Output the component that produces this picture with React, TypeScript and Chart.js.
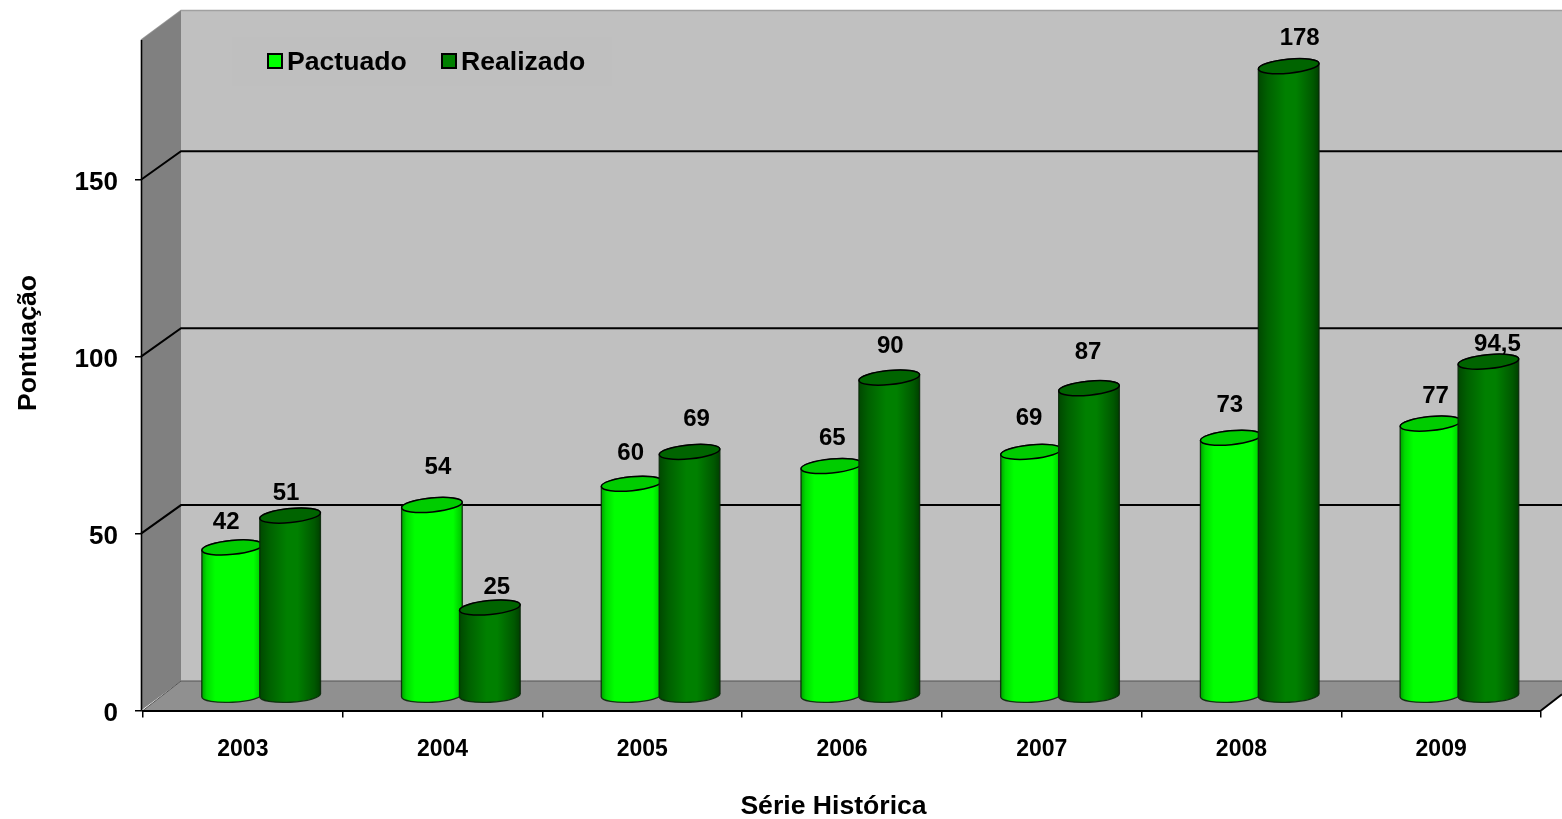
import React, { useEffect, useRef } from "react";
import { Chart, registerables } from "chart.js";

Chart.register(...registerables);

const categories = ["2003", "2004", "2005", "2006", "2007", "2008", "2009"];
const pactuado = [42, 54, 60, 65, 69, 73, 77];
const realizado = [51, 25, 69, 90, 87, 178, 94.5];
const yTickValues = [0, 50, 100, 150];
const seriesNames = ["Pactuado", "Realizado"];
// label nudges relative to each cylinder's top centre: the source labels were hand placed
const pactuadoLabelNudge = [[-6, -25], [6, -38], [-1, -30], [1, -28], [-2, -33], [-1, -32], [5, -27]];
const realizadoLabelNudge = [[-4, -22], [7, -20], [7, -32], [1, -31], [-1, -36], [11, -28], [9, -17]];

const FONT = '"Liberation Sans", Arial, sans-serif';
const DX = 38;
const DY = -29.5;
const GRID_DY = -28.5;
const CX = 18.3;
const CY = -14.5;

const cylinderStyles = [
  { stops: [[0, "#00a000"], [0.08, "#00dc00"], [0.22, "#00ff00"], [0.85, "#00ff00"], [1, "#00c000"]], top: "#00cc00" },
  { stops: [[0, "#004800"], [0.15, "#006000"], [0.45, "#008000"], [0.62, "#008000"], [0.9, "#005800"], [1, "#004000"]], top: "#006400" },
];

const cylinderPlugin = {
  id: "cylinder3d",
  beforeDatasetsDraw(chart: any) {
    const { ctx, scales } = chart;
    const x = scales.x;
    const y = scales.y;
    const W = chart.width;
    const L = x.left;
    const R = x.right;
    const B = y.bottom;
    const T = y.top;

    ctx.save();
    // back wall
    ctx.fillStyle = "#c0c0c0";
    ctx.fillRect(L + DX, T + DY, W - L - DX, B - T);
    ctx.fillStyle = "#bfbfbf";
    ctx.fillRect(232, 37, 380, 49);
    // top edge of back wall
    ctx.strokeStyle = "#a0a0a0";
    ctx.lineWidth = 1.5;
    ctx.beginPath();
    ctx.moveTo(L - 2, T);
    ctx.lineTo(L + DX, T + DY);
    ctx.lineTo(W, T + DY);
    ctx.stroke();
    // left wall
    ctx.fillStyle = "#808080";
    ctx.beginPath();
    ctx.moveTo(L - 2, T);
    ctx.lineTo(L + DX, T + DY);
    ctx.lineTo(L + DX, B + DY);
    ctx.lineTo(L - 2, B);
    ctx.closePath();
    ctx.fill();
    // floor
    ctx.fillStyle = "#909090";
    ctx.beginPath();
    ctx.moveTo(L, B);
    ctx.lineTo(L + DX, B + DY);
    ctx.lineTo(W, B + DY);
    ctx.lineTo(W, B + ((W - R) / DX) * DY);
    ctx.lineTo(R, B);
    ctx.closePath();
    ctx.fill();
    ctx.strokeStyle = "#555555";
    ctx.lineWidth = 1;
    ctx.beginPath();
    ctx.moveTo(L, B);
    ctx.lineTo(L + DX, B + DY);
    ctx.lineTo(W, B + DY);
    ctx.stroke();
    // grid lines on walls
    ctx.strokeStyle = "#000000";
    ctx.lineWidth = 2;
    for (const v of yTickValues) {
      if (v === 0) continue;
      const py = y.getPixelForValue(v);
      ctx.beginPath();
      ctx.moveTo(L - 2, py);
      ctx.lineTo(L + DX, py + GRID_DY);
      ctx.lineTo(W, py + GRID_DY);
      ctx.stroke();
    }
    // y axis line at the front edge of the left wall
    ctx.lineWidth = 1.6;
    ctx.beginPath();
    ctx.moveTo(L - 1.5, T);
    ctx.lineTo(L - 1.5, B);
    ctx.stroke();
    // right diagonal of the floor
    ctx.lineWidth = 2;
    ctx.beginPath();
    ctx.moveTo(R, B);
    ctx.lineTo(W, B + ((W - R) / DX) * DY);
    ctx.stroke();

    // cylinders
    chart.data.datasets.forEach((_: any, di: number) => {
      const style = cylinderStyles[di];
      chart.getDatasetMeta(di).data.forEach((el: any) => {
        const cx = el.x + CX;
        const topY = el.y + CY;
        const botY = el.base + CY;
        const rx = el.width / 2 + 1.5;
        const ry = 7;
        const rotT = (-5.5 * Math.PI) / 180;
        const rotB = (-3 * Math.PI) / 180;
        const g = ctx.createLinearGradient(cx - rx, 0, cx + rx, 0);
        style.stops.forEach((s: any) => g.addColorStop(s[0], s[1]));
        ctx.beginPath();
        ctx.ellipse(cx, botY, rx, ry, rotB, 0, Math.PI, false);
        ctx.ellipse(cx, topY, rx, ry, rotT, Math.PI, 2 * Math.PI, false);
        ctx.closePath();
        ctx.fillStyle = g;
        ctx.fill();
        ctx.strokeStyle = "rgba(10,40,10,0.9)";
        ctx.lineWidth = 1.3;
        ctx.stroke();
        ctx.beginPath();
        ctx.ellipse(cx, topY, rx, ry, rotT, 0, 2 * Math.PI);
        ctx.fillStyle = style.top;
        ctx.fill();
        ctx.strokeStyle = "#000000";
        ctx.lineWidth = 1.5;
        ctx.stroke();
      });
    });
    ctx.restore();
  },
  beforeDatasetDraw() {
    return false;
  },
  afterDraw(chart: any) {
    const { ctx, scales } = chart;
    ctx.save();
    ctx.fillStyle = "#000000";
    ctx.textAlign = "center";
    ctx.textBaseline = "middle";
    ctx.font = `bold 24px ${FONT}`;
    const nudges = [pactuadoLabelNudge, realizadoLabelNudge];
    chart.data.datasets.forEach((ds: any, di: number) => {
      chart.getDatasetMeta(di).data.forEach((el: any, i: number) => {
        const text = String(ds.data[i]).replace(".", ",");
        ctx.fillText(text, el.x + CX + nudges[di][i][0], el.y + CY + nudges[di][i][1]);
      });
    });
    // legend
    ctx.textAlign = "left";
    ctx.font = `bold 26.6px ${FONT}`;
    const lx = [268, 442];
    chart.data.datasets.forEach((ds: any, di: number) => {
      ctx.fillStyle = ds.backgroundColor;
      ctx.fillRect(lx[di], 54, 14, 14);
      ctx.strokeStyle = "#000000";
      ctx.lineWidth = 2;
      ctx.strokeRect(lx[di], 54, 14, 14);
      ctx.fillStyle = "#000000";
      ctx.fillText(ds.label, lx[di] + 19, 63);
    });
    // axis titles
    ctx.textAlign = "center";
    ctx.fillText(scales.x.options.title.text, 833.5, 807);
    ctx.save();
    ctx.translate(29, 343);
    ctx.rotate(-Math.PI / 2);
    ctx.fillText(scales.y.options.title.text, 0, 0);
    ctx.restore();
    ctx.restore();
  },
};

export default function App() {
  const ref = useRef<HTMLCanvasElement>(null);
  useEffect(() => {
    const chart = new Chart(ref.current as HTMLCanvasElement, {
      type: "bar",
      data: {
        labels: categories,
        datasets: [
          { label: seriesNames[0], data: pactuado, backgroundColor: "#00ff00" },
          { label: seriesNames[1], data: realizado, backgroundColor: "#008000" },
        ],
      },
      plugins: [cylinderPlugin],
      options: {
        responsive: false,
        animation: false,
        layout: { padding: { top: 40, right: 21, left: 0, bottom: 0 } },
        datasets: { bar: { categoryPercentage: 0.58, barPercentage: 1 } },
        plugins: { legend: { display: false }, tooltip: { enabled: false }, title: { display: false } },
        scales: {
          x: {
            type: "category",
            title: { display: false, text: "Série Histórica" },
            grid: { display: true, offset: true, drawOnChartArea: false, drawTicks: true, tickLength: 7, color: "#000000", lineWidth: 1.5 },
            border: { display: true, color: "#000000", width: 2, z: 1 },
            ticks: { color: "#000000", font: { family: FONT, size: 23, weight: "bold" }, padding: 18, maxRotation: 0 },
            afterFit(s: any) {
              s.height = 108.5;
            },
          },
          y: {
            type: "linear",
            min: 0,
            max: 189.5,
            title: { display: false, text: "Pontuação" },
            afterBuildTicks(s: any) {
              s.ticks = yTickValues.map((value) => ({ value }));
            },
            grid: { display: true, drawOnChartArea: false, drawTicks: true, tickLength: 8, color: "#000000", lineWidth: 1.5 },
            border: { display: false },
            ticks: { color: "#000000", font: { family: FONT, size: 26, weight: "bold" }, padding: 17, stepSize: 50 },
            afterFit(s: any) {
              s.width = 143;
              if (!s.__labelShift) {
                s.__labelShift = true;
                const drawLabels = s.drawLabels;
                s.drawLabels = function (area: any) {
                  s.ctx.save();
                  s.ctx.translate(0, 3);
                  drawLabels.call(s, area);
                  s.ctx.restore();
                };
              }
            },
          },
        },
      } as any,
    });
    return () => chart.destroy();
  }, []);
  return (
    <div style={{ position: "absolute", left: 0, top: 0, width: 1562, height: 819, background: "#ffffff" }}>
      <canvas ref={ref} width={1562} height={819} style={{ display: "block" }} />
    </div>
  );
}
